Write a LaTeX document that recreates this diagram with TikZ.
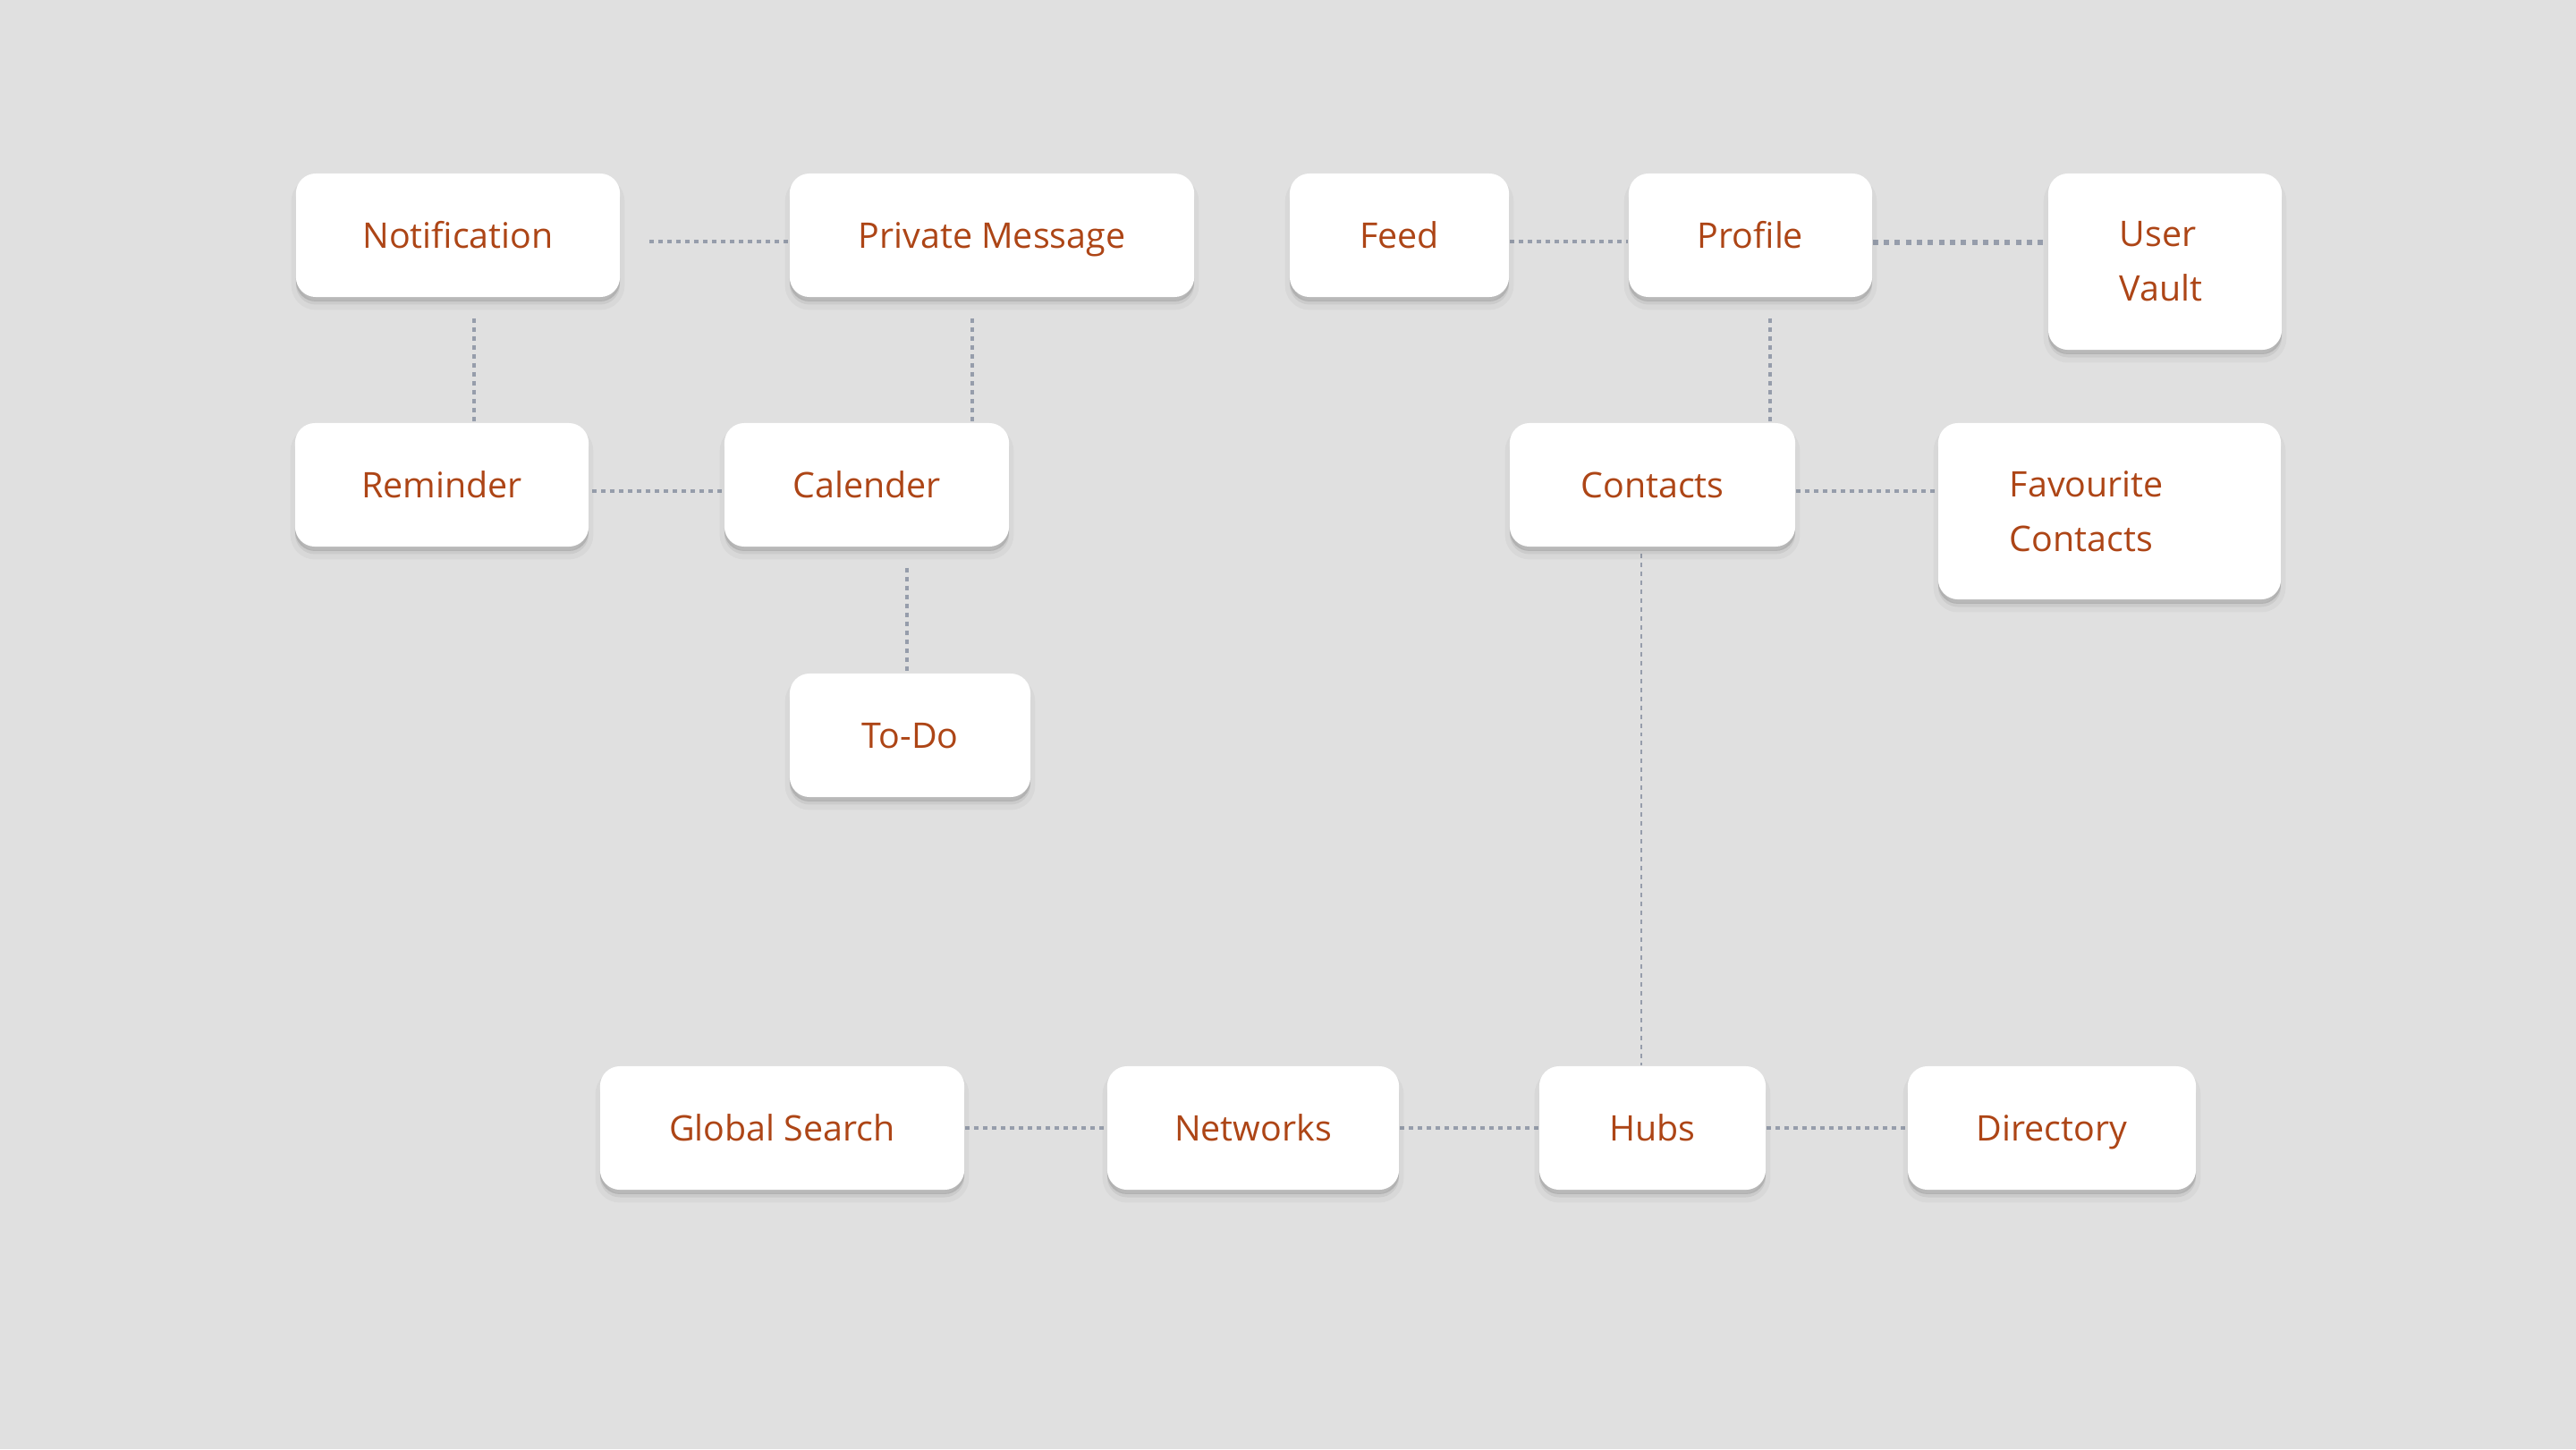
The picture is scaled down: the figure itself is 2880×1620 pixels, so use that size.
\documentclass[tikz,border=0pt]{standalone}
\usepackage{fontspec}
\setmainfont{Open Sans}
\usetikzlibrary{calc}
\definecolor{bgc}{HTML}{E0E0E0}
\definecolor{dotc}{HTML}{969DAB}
\definecolor{txtc}{HTML}{AD4516}
\pgfdeclarelayer{back}
\pgfdeclarelayer{mid}
\pgfsetlayers{back,mid,main}
\tikzset{
  box/.style={fill=white, rounded corners=6.3pt, inner sep=0pt, text=txtc,
    font=\fontsize{11.2}{17.36}\selectfont,
    preaction={draw=black, draw opacity=0.03, line width=3pt, transform canvas={yshift=-2.6pt}},
    preaction={fill=black, fill opacity=0.06, transform canvas={yshift=-2.4pt}},
    preaction={fill=black, fill opacity=0.12, transform canvas={yshift=-1.4pt}}},
  one/.style={box, text height=8.25pt, text depth=0pt, minimum height=1.38cm},
  two/.style={box, align=left, inner xsep=0.8cm, minimum height=1.97cm},
  dotl/.style={draw=dotc, line width=1.4pt, dash pattern=on 1.45pt off 1.4pt},
  dotk/.style={draw=dotc, line width=1.6pt, dash pattern=on 1.7pt off 1.8pt},
  thinl/.style={draw=dotc, line width=0.6pt, dash pattern=on 1.42pt off 1.42pt}
}
\begin{document}
\begin{tikzpicture}[x=0.01cm, y=-0.01cm]
\begin{pgfonlayer}{back}
\fill[bgc] (0,0) rectangle (2880,1620);
\end{pgfonlayer}
\useasboundingbox (0,0) rectangle (2880,1620);

% top row
\node[one, minimum width=3.62cm] (notif) at (512,263) {Notification};
\node[one, minimum width=4.52cm] (pm) at (1109,263) {Private Message};
\node[one, minimum width=2.45cm] (feed) at (1564.5,263) {Feed};
\node[one, minimum width=2.72cm] (profile) at (1957,263) {Profile};
\node[two, text width=1.01cm] (vault) at (2420.5,292.5) {User\\Vault};
% second row
\node[one, minimum width=3.28cm] (remind) at (494,542) {Reminder};
\node[one, minimum width=3.18cm] (cal) at (969,542) {Calender};
\node[one, minimum width=3.19cm] (contacts) at (1847.5,542) {Contacts};
\node[two, text width=2.23cm] (fav) at (2358.5,571.5) {Favourite\\Contacts};
% third row
\node[one, minimum width=2.69cm] (todo) at (1017.5,822) {To-Do};
% bottom row
\node[one, minimum width=4.07cm] (global) at (874.5,1261) {Global Search};
\node[one, minimum width=3.26cm] (networks) at (1401,1261) {Networks};
\node[one, minimum width=2.53cm] (hubs) at (1847.5,1261) {Hubs};
\node[one, minimum width=3.22cm] (directory) at (2294,1261) {Directory};

\begin{pgfonlayer}{mid}
% horizontal connectors
\draw[dotl] ($(notif.east)+(32,7)$) -- ($(pm.west)+(0,7)$);
\draw[dotl] ($(feed.east)+(0,7)$) -- ($(profile.west)+(0,7)$);
\coordinate (pv) at ($(profile.east)+(0,8)$);
\draw[dotk] (pv) -- (pv -| vault.west);
\draw[dotl] ($(remind.east)+(-7,7)$) -- ($(cal.west)+(0,7)$);
\coordinate (cf) at ($(contacts.east)+(0,7)$);
\draw[dotl] (cf) -- (cf -| fav.west);
\draw[dotl] (global.east) -- (networks.west);
\draw[dotl] (networks.east) -- (hubs.west);
\draw[dotl] (hubs.east) -- (directory.west);
% vertical connectors
\coordinate (nr) at ($(notif.south)+(18,23)$);
\draw[dotl] (nr) -- (nr |- remind.north);
\coordinate (pc) at ($(pm.south)+(-22,23)$);
\draw[dotl] (pc) -- (pc |- cal.north);
\coordinate (ct) at ($(cal.south)+(45,23)$);
\draw[dotl] (ct) -- (ct |- todo.north);
\coordinate (pco) at ($(profile.south)+(22,23)$);
\draw[dotl] (pco) -- (pco |- contacts.north);
\coordinate (ch) at ($(contacts.south)+(-12.5,7)$);
\draw[thinl] (ch) -- (ch |- hubs.north);
\end{pgfonlayer}
\end{tikzpicture}
\end{document}
